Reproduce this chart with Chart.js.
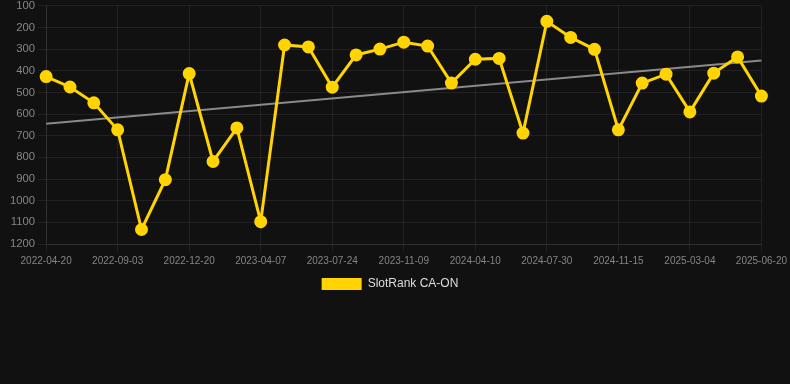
<!DOCTYPE html>
<html>
<head>
<meta charset="utf-8">
<script src="https://cdn.jsdelivr.net/npm/chart.js@4/dist/chart.umd.min.js"></script>
<style>
    html, body { margin: 0; padding: 0; background: #111111; overflow: hidden; }
    .chart-wrap { position: relative; width: 790px; height: 304px; margin-top: -4px; }
</style>
</head>
<body>
<div class="chart-wrap">
    <canvas id="rank-chart"></canvas>
</div>
<script>
const dates = [
    '2022-04-20', '2022-06-04', '2022-07-19', '2022-09-03', '2022-10-09', '2022-11-14',
    '2022-12-20', '2023-01-25', '2023-03-02', '2023-04-07', '2023-05-13', '2023-06-18',
    '2023-07-24', '2023-08-29', '2023-10-04', '2023-11-09', '2023-12-20', '2024-02-29',
    '2024-04-10', '2024-05-16', '2024-06-24', '2024-07-30', '2024-09-04', '2024-10-10',
    '2024-11-15', '2024-12-21', '2025-01-27', '2025-03-04', '2025-04-09', '2025-05-15',
    '2025-06-20'
];

const ranks = [
    427, 475, 548, 673, 1133, 903, 413, 819, 664, 1097, 281, 290,
    476, 327, 300, 268, 286, 457, 347, 343, 688, 172, 246, 301,
    673, 457, 416, 590, 411, 336, 517
];

// trend line end points (rank at first and last date)
const trendStart = 645;
const trendEnd = 353;

const yTicks = { min: 100, max: 1200, step: 100 };

const COLORS = {
    line: '#ffd400',
    trend: '#8a8a8a',
    grid: 'rgba(255, 255, 255, 0.07)',
    tick: '#858585',
    legend: '#dddddd'
};

const canvas = document.getElementById('rank-chart');

new Chart(canvas, {
    type: 'line',
    data: {
        labels: dates,
        datasets: [
            {
                label: 'SlotRank CA-ON',
                data: ranks,
                borderColor: COLORS.line,
                backgroundColor: COLORS.line,
                borderWidth: 3,
                pointRadius: 5,
                pointHoverRadius: 6,
                tension: 0,
                fill: false
            },
            {
                label: 'trend',
                data: [
                    { x: dates[0], y: trendStart },
                    { x: dates[dates.length - 1], y: trendEnd }
                ],
                borderColor: COLORS.trend,
                borderWidth: 2,
                pointRadius: 0,
                fill: false
            }
        ]
    },
    options: {
        responsive: true,
        maintainAspectRatio: false,
        animation: false,
        layout: { padding: { left: 7, right: 17 } },
        scales: {
            x: {
                grid: { color: COLORS.grid },
                border: { color: COLORS.grid },
                ticks: {
                    color: COLORS.tick,
                    font: { size: 10 },
                    maxRotation: 0,
                    autoSkip: true,
                    autoSkipPadding: 3
                }
            },
            y: {
                reverse: true,
                min: yTicks.min,
                max: yTicks.max,
                grid: { color: COLORS.grid },
                border: { color: COLORS.grid },
                ticks: {
                    color: COLORS.tick,
                    font: { size: 11.3 },
                    stepSize: yTicks.step,
                    callback: (v) => String(v)
                }
            }
        },
        plugins: {
            legend: {
                position: 'bottom',
                labels: {
                    color: COLORS.legend,
                    font: { size: 12 },
                    padding: 8,
                    filter: (item) => item.text !== 'trend',
                    generateLabels: (chart) => Chart.defaults.plugins.legend.labels
                        .generateLabels(chart)
                        .map(item => ({ ...item, lineWidth: 0 }))
                }
            },
            tooltip: { enabled: false }
        }
    }
});
</script>
</body>
</html>
